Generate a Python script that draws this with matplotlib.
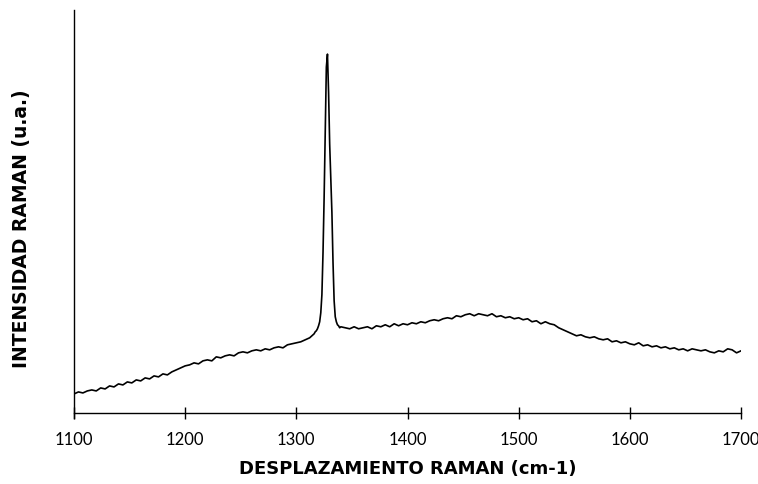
import numpy as np
import matplotlib
matplotlib.use('Agg')
import matplotlib.pyplot as plt

# Espectro Raman (intensidad en unidades arbitrarias)
shift_left = np.arange(1100, 1313, 4)
intensity_left = [19, 21, 20, 22, 23, 22, 25, 24, 27, 26, 29, 28, 31, 30, 33, 32, 35, 34,
                  37, 36, 39, 38, 41, 43, 45, 47, 48, 50, 49, 52, 53, 52, 56, 55, 57, 58,
                  57, 60, 61, 60, 62, 63, 62, 64, 63, 65, 66, 65, 68, 69, 70, 71, 73, 75]

shift_peak = np.arange(1315, 1341, 1)
intensity_peak = [78, 79, 81, 82, 84, 87, 91, 100, 118, 160, 215, 280, 345, 358, 320, 268,
                  235, 200, 150, 112, 96, 91, 88, 87, 85, 86]

shift_right = np.arange(1344, 1701, 4)
intensity_right = [85, 84, 86, 84, 85, 86, 84, 87, 86, 88, 86, 89, 87, 89, 88,
                   90, 89, 91, 90, 92, 93, 92, 94, 95, 94, 97, 96, 98, 99, 97, 99, 98, 97,
                   99, 96, 97, 95, 96, 94, 95,
                   93, 94, 91, 92, 89, 91, 89, 88, 85, 83, 81, 79, 77, 78, 76, 75, 76, 74,
                   73, 74, 71, 72, 70, 71, 69,
                   68, 70, 67, 68, 66, 67, 65, 66, 64, 65, 63, 64, 62, 64, 63, 62, 63, 61,
                   60, 62, 61, 64, 63, 60, 62]

x_ticks = [1100, 1200, 1300, 1400, 1500, 1600, 1700]

shift = np.concatenate([shift_left, shift_peak, shift_right])
intensity = np.concatenate([intensity_left, intensity_peak, intensity_right])

fig = plt.figure(figsize=(7.58, 4.84), dpi=100)
ax = fig.add_axes([74 / 758, (484 - 418) / 484, 667 / 758, 408 / 484])

ax.plot(shift, intensity, color='black', lw=1.2)

ax.set_xlim(1100, 1700)
ax.set_ylim(-5, 402)
ax.spines['top'].set_visible(False)
ax.spines['right'].set_visible(False)
ax.spines['bottom'].set_position(('data', 0))
ax.spines['left'].set_linewidth(1.0)
ax.spines['bottom'].set_linewidth(1.0)

ax.set_xticks(x_ticks)
ax.set_xticklabels([str(t) for t in x_ticks], family='Lato', fontsize=12)
ax.tick_params(axis='x', direction='inout', length=8, width=1, pad=10)
ax.set_yticks([])

ax.set_xlabel('DESPLAZAMIENTO RAMAN (cm-1)', family='DejaVu Sans', fontweight='bold',
              fontsize=13, labelpad=8)
ax.set_ylabel('INTENSIDAD RAMAN (u.a.)', family='DejaVu Sans', fontweight='bold',
              fontsize=13.5)
ax.yaxis.set_label_coords(-0.064, 0.465)

fig.savefig('out.png', dpi=100)
